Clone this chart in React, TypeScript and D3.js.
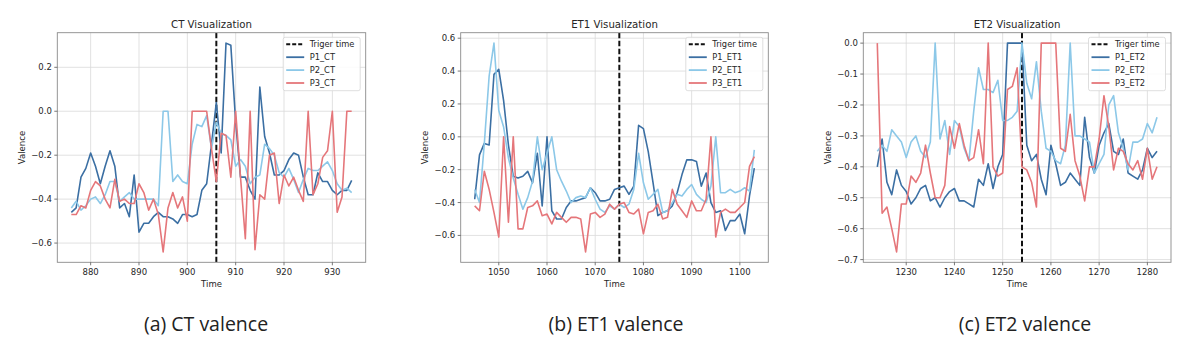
import React from 'react';
import * as d3 from 'd3';

// time axis starts (one sample per second)
const ctStart = 876;
const et1Start = 1045;
const et2Start = 1224;

const ctTrigger = 906;
const et1Trigger = 1075;
const et2Trigger = 1254;

const ctP1 = [-0.46, -0.44, -0.30, -0.26, -0.19, -0.25, -0.33, -0.25, -0.18, -0.25,
  -0.44, -0.42, -0.48, -0.29, -0.55, -0.51, -0.51, -0.48, -0.46, -0.48,
  -0.48, -0.49, -0.51, -0.47, -0.47, -0.48, -0.47, -0.36, -0.33, -0.15,
  0.04, -0.19, 0.31, 0.30, -0.05, -0.30, -0.30, -0.36, -0.40, 0.11,
  -0.115, -0.19, -0.29, -0.29, -0.27, -0.22, -0.19, -0.20, -0.30, -0.38,
  -0.38, -0.28, -0.32, -0.32, -0.36, -0.38, -0.36, -0.36, -0.315];
const ctP2 = [-0.44, -0.41, -0.45, -0.43, -0.40, -0.39, -0.42, -0.38, -0.32, -0.32,
  -0.41, -0.39, -0.37, -0.40, -0.40, -0.40, -0.40, -0.40, -0.43, 0.0,
  0.0, -0.32, -0.29, -0.32, -0.33, -0.15, -0.06, -0.07, -0.02, -0.17,
  -0.05, -0.10, -0.11, -0.13, -0.25, -0.22, -0.25, -0.33, -0.30, -0.29,
  -0.15, -0.17, -0.20, -0.28, -0.30, -0.26, -0.31, -0.37, -0.31, -0.26,
  -0.27, -0.27, -0.25, -0.23, -0.27, -0.33, -0.36, -0.35, -0.37];
const ctP3 = [-0.47, -0.47, -0.43, -0.44, -0.36, -0.32, -0.34, -0.40, -0.44, -0.31,
  -0.41, -0.40, -0.42, -0.42, -0.33, -0.37, -0.45, -0.40, -0.47, -0.64,
  -0.44, -0.37, -0.44, -0.39, -0.50, 0.0, 0.0, 0.0, 0.0, -0.17,
  -0.32, -0.10, -0.11, -0.30, 0.0, -0.30, -0.58, 0.0, -0.63, -0.38,
  -0.40, -0.20, -0.19, -0.42, -0.29, -0.34, -0.30, -0.36, -0.41, 0.0,
  -0.38, -0.33, -0.21, -0.18, 0.0, -0.46, -0.39, 0.0, 0.0];

const et1P1 = [-0.38, -0.11, -0.04, -0.05, 0.38, 0.41, 0.22, -0.05, -0.24, -0.25,
  -0.24, -0.21, -0.28, -0.10, -0.42, 0.0, -0.45, -0.50, -0.50, -0.43,
  -0.39, -0.39, -0.38, -0.37, -0.31, -0.34, -0.39, -0.39, -0.38, -0.32,
  -0.31, -0.30, -0.35, -0.30, 0.07, 0.05, -0.09, -0.28, -0.48, -0.46,
  -0.45, -0.42, -0.34, -0.23, -0.14, -0.14, -0.15, -0.30, -0.22, -0.40,
  -0.46, -0.45, -0.57, -0.51, -0.51, -0.47, -0.59, -0.36, -0.19];
const et1P2 = [-0.32, -0.40, -0.04, 0.37, 0.57, 0.16, 0.06, -0.13, -0.25, -0.35,
  -0.44, -0.37, -0.27, 0.0, -0.20, -0.10, 0.0, -0.20, -0.27, -0.33,
  -0.40, -0.37, -0.36, -0.37, -0.31, -0.38, -0.44, -0.46, -0.42, -0.44,
  -0.41, -0.43, -0.41, -0.32, -0.10, -0.28, -0.38, -0.35, -0.32, -0.46,
  -0.45, -0.40, -0.35, -0.36, -0.32, -0.29, -0.35, -0.38, -0.40, -0.30,
  0.0, -0.34, -0.34, -0.32, -0.34, -0.33, -0.31, -0.33, -0.08];
const et1P3 = [-0.42, -0.45, -0.21, -0.32, -0.46, -0.61, 0.0, -0.52, 0.0, -0.56,
  -0.56, -0.43, -0.42, -0.39, -0.48, -0.47, -0.53, -0.46, -0.49, -0.52,
  -0.49, -0.49, -0.50, -0.70, -0.47, -0.46, -0.49, -0.47, -0.41, -0.44,
  -0.41, -0.40, -0.46, -0.47, -0.44, -0.59, -0.46, -0.45, -0.41, -0.50,
  -0.49, -0.32, -0.41, -0.45, -0.49, -0.39, -0.45, -0.45, -0.38, 0.0,
  -0.61, -0.46, -0.44, -0.46, -0.46, -0.43, -0.40, -0.18, -0.12];

const et2P1 = [-0.40, -0.31, -0.45, -0.49, -0.41, -0.46, -0.48, -0.52, -0.50, -0.47,
  -0.46, -0.51, -0.50, -0.53, -0.50, -0.48, -0.47, -0.51, -0.51, -0.52,
  -0.53, -0.44, -0.46, -0.39, -0.47, -0.40, -0.36, 0.0, 0.0, 0.0,
  0.0, -0.33, -0.38, -0.36, -0.44, -0.49, -0.33, -0.39, -0.46, -0.45,
  -0.42, -0.44, -0.46, -0.24, -0.37, -0.42, -0.33, -0.29, -0.26, -0.35,
  -0.36, -0.31, -0.42, -0.43, -0.44, -0.41, -0.34, -0.37, -0.35];
const et2P2 = [-0.35, -0.33, -0.35, -0.28, -0.30, -0.32, -0.37, -0.32, -0.30, -0.35,
  -0.37, -0.32, 0.0, -0.31, -0.25, -0.36, -0.25, -0.27, -0.34, -0.38,
  -0.22, -0.08, -0.15, -0.15, -0.16, -0.12, -0.25, -0.25, -0.24, -0.22,
  0.0, -0.13, -0.18, -0.06, -0.22, -0.34, -0.35, -0.38, -0.39, -0.33,
  0.0, -0.30, -0.30, -0.31, -0.32, -0.42, -0.39, -0.36, -0.20, -0.17,
  -0.29, -0.34, -0.41, -0.32, -0.32, -0.31, -0.26, -0.29, -0.24];
const et2P3 = [0.0, -0.55, -0.53, -0.60, -0.675, -0.52, -0.52, -0.43, -0.45, -0.42,
  -0.33, -0.42, -0.50, -0.50, -0.46, -0.27, -0.34, -0.26, -0.33, -0.38,
  -0.37, -0.28, -0.39, 0.0, -0.40, -0.43, -0.42, -0.15, -0.14, -0.08,
  -0.40, -0.41, -0.45, -0.53, 0.0, 0.0, 0.0, 0.0, -0.34, -0.35,
  -0.23, -0.38, -0.43, -0.51, -0.40, -0.40, -0.31, -0.17, -0.27, -0.41,
  -0.34, -0.35, -0.39, -0.41, -0.38, -0.44, -0.34, -0.44, -0.40];

const ctXTicks = [880, 890, 900, 910, 920, 930];
const et1XTicks = [1050, 1060, 1070, 1080, 1090, 1100];
const et2XTicks = [1230, 1240, 1250, 1260, 1270, 1280];
const ctYTicks = [-0.6, -0.4, -0.2, 0.0, 0.2];
const et1YTicks = [-0.6, -0.4, -0.2, 0.0, 0.2, 0.4, 0.6];
const et2YTicks = [-0.7, -0.6, -0.5, -0.4, -0.3, -0.2, -0.1, 0.0];

const colors = ['#3b6fa3', '#8cc8e8', '#e5767a'];
const font = 'DejaVu Sans, sans-serif';

const top = 32.7;
const bottom = 262.3;

const fmt = (v: number) => v.toFixed(1).replace('-', '\u2212');

function Panel({ left, width, title, caption, captionX, start, trigger, series, names, xTicks, yTicks }) {
  const n = series[0].length;
  const span = n - 1;
  const x = d3.scaleLinear()
    .domain([start - 0.05 * span, start + span + 0.05 * span])
    .range([left, left + width]);
  const all = series.flat();
  const [lo, hi] = d3.extent(all);
  const pad = (hi - lo) * 0.05;
  const y = d3.scaleLinear()
    .domain([lo - pad, hi + pad])
    .range([bottom, top]);

  const line = d3.line<number>()
    .x((d, i) => x(start + i))
    .y(d => y(d));

  const right = left + width;
  const lgW = 77;
  const lgX = right - 5.5 - lgW;
  const lgY = top + 4.6;

  return (
    <g>
      <defs>
        <clipPath id={`clip-${start}`}>
          <rect x={left} y={top} width={width} height={bottom - top} />
        </clipPath>
      </defs>
      {xTicks.map(t => (
        <line key={'gx' + t} x1={x(t)} x2={x(t)} y1={top} y2={bottom} stroke="#d9d9d9" strokeWidth={0.8} />
      ))}
      {yTicks.map(t => (
        <line key={'gy' + t} x1={left} x2={right} y1={y(t)} y2={y(t)} stroke="#d9d9d9" strokeWidth={0.8} />
      ))}
      <g clipPath={`url(#clip-${start})`}>
        <line x1={x(trigger)} x2={x(trigger)} y1={top} y2={bottom} stroke="#111" strokeWidth={2} strokeDasharray="5.5,2.5" />
        {series.map((s, i) => (
          <path key={i} d={line(s)} fill="none" stroke={colors[i]} strokeWidth={1.6} strokeLinejoin="round" />
        ))}
      </g>
      <rect x={left} y={top} width={width} height={bottom - top} fill="none" stroke="#8a8a8a" strokeWidth={0.9} />
      {xTicks.map(t => (
        <g key={'tx' + t}>
          <line x1={x(t)} x2={x(t)} y1={bottom} y2={bottom + 3} stroke="#555" strokeWidth={0.8} />
          <text x={x(t)} y={bottom + 13} textAnchor="middle" fontFamily={font} fontSize={8.5} fill="#262626">{t}</text>
        </g>
      ))}
      {yTicks.map(t => (
        <g key={'ty' + t}>
          <line x1={left - 3} x2={left} y1={y(t)} y2={y(t)} stroke="#555" strokeWidth={0.8} />
          <text x={left - 5.5} y={y(t) + 3} textAnchor="end" fontFamily={font} fontSize={8.5} fill="#262626">{fmt(t)}</text>
        </g>
      ))}
      <text x={(left + right) / 2} y={28} textAnchor="middle" fontFamily={font} fontSize={10.2} fill="#262626">{title}</text>
      <text x={(left + right) / 2} y={287} textAnchor="middle" fontFamily={font} fontSize={8.5} fill="#262626">Time</text>
      <text transform={`translate(${left - 32.5},${(top + bottom) / 2}) rotate(-90)`} textAnchor="middle" fontFamily={font} fontSize={8.5} fill="#262626">Valence</text>

      <rect x={lgX} y={lgY} width={lgW} height={53.4} rx={2} fill="white" fillOpacity={0.85} stroke="#d5d5d5" strokeWidth={0.8} />
      {['Triger time', ...names].map((nm, i) => {
        const ry = lgY + 7 + i * 12.9;
        return (
          <g key={nm}>
            <line x1={lgX + 3} x2={lgX + 21} y1={ry} y2={ry}
              stroke={i === 0 ? '#111' : colors[i - 1]} strokeWidth={i === 0 ? 2 : 1.8}
              strokeDasharray={i === 0 ? '4,2' : undefined} />
            <text x={lgX + 26.5} y={ry + 3} fontFamily={font} fontSize={8.3} fill="#262626">{nm}</text>
          </g>
        );
      })}
      <text x={captionX} y={331} textAnchor="middle" fontFamily="Open Sans, sans-serif" fontSize={19.5} fill="#222">{caption}</text>
    </g>
  );
}

export default function App() {
  return (
    <svg width={1196} height={343} style={{ position: 'absolute', left: 0, top: 0, background: 'white' }}>
      <Panel left={57.3} width={308.4} title="CT Visualization" caption="(a) CT valence" captionX={206}
        start={ctStart} trigger={ctTrigger} series={[ctP1, ctP2, ctP3]} names={['P1_CT', 'P2_CT', 'P3_CT']}
        xTicks={ctXTicks} yTicks={ctYTicks} />
      <Panel left={460.7} width={307.6} title="ET1 Visualization" caption="(b) ET1 valence" captionX={616}
        start={et1Start} trigger={et1Trigger} series={[et1P1, et1P2, et1P3]} names={['P1_ET1', 'P2_ET1', 'P3_ET1']}
        xTicks={et1XTicks} yTicks={et1YTicks} />
      <Panel left={863.3} width={307.7} title="ET2 Visualization" caption="(c) ET2 valence" captionX={1025}
        start={et2Start} trigger={et2Trigger} series={[et2P1, et2P2, et2P3]} names={['P1_ET2', 'P2_ET2', 'P3_ET2']}
        xTicks={et2XTicks} yTicks={et2YTicks} />
    </svg>
  );
}
